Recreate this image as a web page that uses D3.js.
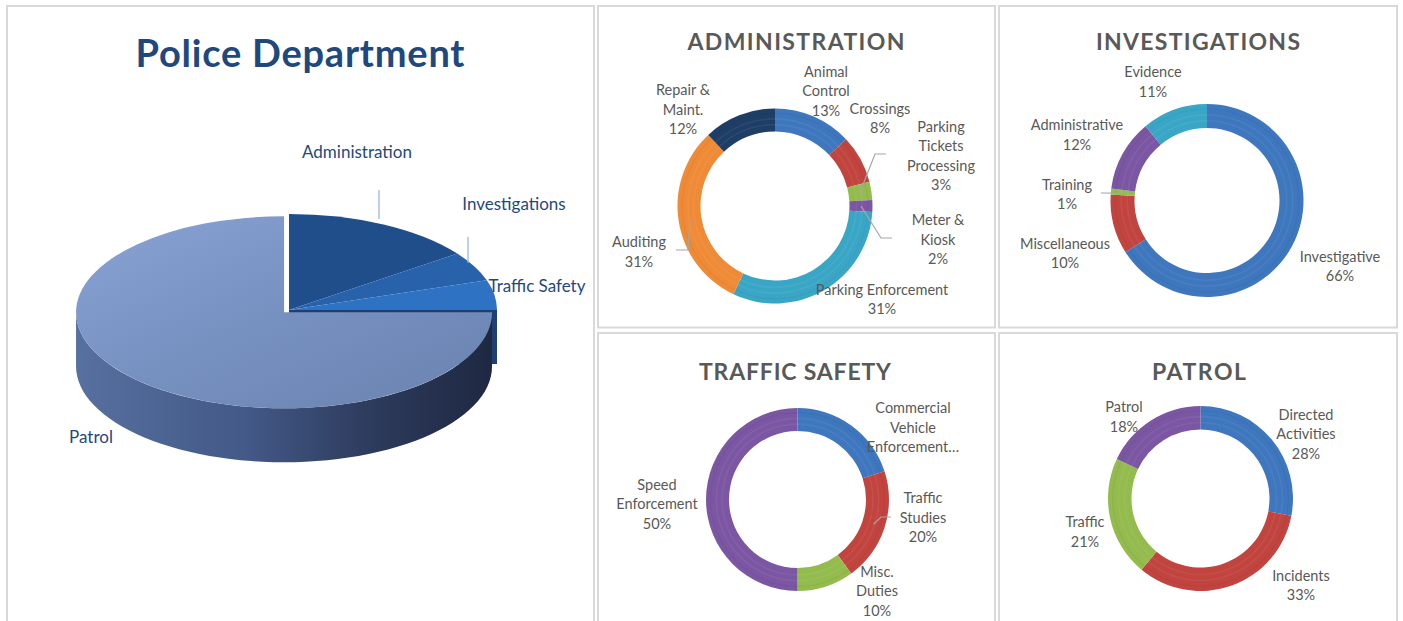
<!DOCTYPE html>
<html>
<head>
<meta charset="utf-8">
<script src="https://cdn.jsdelivr.net/npm/d3@7"></script>
<style>
  body { margin: 0; background: #fff; }
  svg { display: block; }
  text { font-family: Lato, "Open Sans", sans-serif; }
</style>
</head>
<body>
<div id="chart"></div>
<script>
// department split (3D pie)
const deptNames = ["Administration", "Investigations", "Traffic Safety", "Patrol"];
const deptValues = [15, 5, 5, 75];

// sub charts (line breaks are where the labels wrap)
const adminCats = ["Animal\nControl", "Crossings", "Parking\nTickets\nProcessing", "Meter &\nKiosk",
  "Parking Enforcement", "Auditing", "Repair &\nMaint."];
const adminValues = [13, 8, 3, 2, 31, 31, 12];

const invCats = ["Investigative", "Miscellaneous", "Training", "Administrative", "Evidence"];
const invValues = [66, 10, 1, 12, 11];

const trafficCats = ["Commercial\nVehicle\nEnforcement…", "Traffic\nStudies", "Misc.\nDuties", "Speed\nEnforcement"];
const trafficValues = [20, 20, 10, 50];

const patrolCats = ["Directed\nActivities", "Incidents", "Traffic", "Patrol"];
const patrolValues = [28, 33, 21, 18];

const C = {
  blue: "#3e77be", red: "#c1443f", green: "#93bb4d", purple: "#7b56a2",
  aqua: "#3aa6c5", orange: "#ef8a36", navy: "#1f3e66"
};

const W = 1403, H = 621;
const svg = d3.select("#chart").append("svg").attr("width", W).attr("height", H);
const defs = svg.append("defs");

// panel frames
const panels = [[7, 6, 587, 640], [598, 6, 397, 321.5], [999, 6, 398, 321.5], [598, 333, 397, 300], [999, 333, 398, 300]];
svg.selectAll("rect.panel").data(panels).join("rect")
  .attr("class", "panel")
  .attr("x", d => d[0]).attr("y", d => d[1])
  .attr("width", d => d[2]).attr("height", d => d[3])
  .attr("fill", "none").attr("stroke", "#d9d9d9").attr("stroke-width", 2);

//---------------- 3D pie ----------------
const P = { cx: 289, cy: 310, rx: 208, ry: 96, depth: 54, explode: 7 };
const topColors = ["#1f4e8b", "#2862ab", "#2e72c4", "url(#patrolTop)"];
const sideColors = ["#183c6c", "#1f4d88", "#24589a", "url(#patrolSide)"];

function grad(id, x1, y1, x2, y2, stops, user) {
  const g = defs.append("linearGradient").attr("id", id)
    .attr("x1", x1).attr("y1", y1).attr("x2", x2).attr("y2", y2);
  if (user) g.attr("gradientUnits", "userSpaceOnUse");
  stops.forEach(s => g.append("stop").attr("offset", s[0]).attr("stop-color", s[1]));
}
grad("patrolTop", 0, 0, 1, 1, [[0, "#89a4d4"], [0.5, "#7690c0"], [1, "#6a83b0"]]);
grad("patrolSide", 77, 0, 497, 0, [[0, "#56709f"], [0.4, "#435987"], [0.7, "#2d3b5c"], [1, "#1d2740"]], true);

const pieArcs = d3.pie().sort(null)(deptValues);
const offsetOf = (d, i) => {
  if (i !== 3) return [0, 0];
  const m = (d.startAngle + d.endAngle) / 2;
  return [P.explode * Math.sin(m), -P.explode * Math.cos(m) * P.ry / P.rx];
};
const ept = (a, cx, cy) => [cx + P.rx * Math.sin(a), cy - P.ry * Math.cos(a)];
const line = d3.line();

function sidePath(d, i) {
  const a0 = Math.max(d.startAngle, Math.PI / 2), a1 = Math.min(d.endAngle, 3 * Math.PI / 2);
  if (a1 <= a0) return null;
  const [ox, oy] = offsetOf(d, i);
  const cx = P.cx + ox, cy = P.cy + oy;
  const angs = d3.range(0, 61).map(k => a0 + (a1 - a0) * k / 60);
  const top = angs.map(a => ept(a, cx, cy));
  const bot = angs.slice().reverse().map(a => ept(a, cx, cy + P.depth));
  return line(top.concat(bot)) + "Z";
}

const pieG = svg.append("g");
// exposed cut face of traffic safety (seen through the exploded gap)
const tsArc = pieArcs[2];
pieG.append("path")
  .attr("d", line([[P.cx, P.cy], ept(tsArc.endAngle, P.cx, P.cy), ept(tsArc.endAngle, P.cx, P.cy + P.depth), [P.cx, P.cy + P.depth]]) + "Z")
  .attr("fill", "#1d3f73");

pieG.selectAll("path.side").data(pieArcs).join("path")
  .attr("class", "side")
  .attr("d", (d, i) => sidePath(d, i))
  .attr("fill", (d, i) => sideColors[i]);

const arcTop = d3.arc().innerRadius(0).outerRadius(P.rx);
pieG.selectAll("path.top").data(pieArcs).join("path")
  .attr("class", "top")
  .attr("transform", (d, i) => {
    const [ox, oy] = offsetOf(d, i);
    return `translate(${P.cx + ox},${P.cy + oy}) scale(1,${P.ry / P.rx})`;
  })
  .attr("d", arcTop)
  .attr("fill", (d, i) => topColors[i]);

// pie labels
const deptLabelPos = [[357, 158], [514, 210], [537, 292], [91, 443]];
svg.selectAll("text.dept").data(deptNames).join("text")
  .attr("class", "dept")
  .attr("x", (d, i) => deptLabelPos[i][0]).attr("y", (d, i) => deptLabelPos[i][1])
  .attr("text-anchor", "middle").attr("font-size", 17).attr("fill", "#1f497d")
  .text(d => d);
const deptLeaders = [[[379, 190], [379, 219]], [[468, 237], [468, 263]]];
svg.selectAll("path.dlead").data(deptLeaders).join("path")
  .attr("class", "dlead").attr("d", d => line(d))
  .attr("stroke", "#8fb3e0").attr("stroke-width", 1.2).attr("fill", "none");

svg.append("text")
  .attr("x", 300).attr("y", 67)
  .attr("text-anchor", "middle").attr("font-size", 38).attr("font-weight", 700)
  .attr("fill", "#1f497d")
  .attr("textLength", 329).attr("lengthAdjust", "spacing")
  .text("Police Department");

//---------------- doughnuts ----------------
const donuts = [
  {
    title: "ADMINISTRATION", tx: 796, ty: 50, tw: 217,
    cx: 775, cy: 206, R: 97.5, r: 74.5,
    cats: adminCats, values: adminValues,
    colors: [C.blue, C.red, C.green, C.purple, C.aqua, C.orange, C.navy],
    labels: [[51, -115], [105, -87.5], [166, -50], [163, 33.5], [107, 93.5], [-136, 46], [-92, -96.5]],
    leaders: { 2: [[100, -52], [111, -52]], 3: [[106, 32], [117, 32]], 5: [[-87, 44], [-99, 44]] }
  },
  {
    title: "INVESTIGATIONS", tx: 1198, ty: 50, tw: 204,
    cx: 1207, cy: 200.5, R: 96.5, r: 72.5,
    cats: invCats, values: invValues,
    colors: [C.blue, C.red, C.green, C.purple, C.aqua],
    labels: [[133, 66], [-142, 53], [-140, -6], [-130, -65.5], [-54, -118.5]],
    leaders: { 2: [[-106, -7.5]] }, leadR: { 2: 76 }
  },
  {
    title: "TRAFFIC SAFETY", tx: 795, ty: 380, tw: 192,
    cx: 797.5, cy: 499.5, R: 91.5, r: 68.5,
    cats: trafficCats, values: trafficValues,
    colors: [C.blue, C.red, C.green, C.purple],
    labels: [[115.5, -72], [125.5, 18], [79.5, 91.5], [-140.5, 4.5]],
    leaders: { 1: [[83.5, 17.5], [93.5, 17.5]] }
  },
  {
    title: "PATROL", tx: 1199, ty: 380, tw: 94,
    cx: 1200.5, cy: 498.5, R: 92.5, r: 69,
    cats: patrolCats, values: patrolValues,
    colors: [C.blue, C.red, C.green, C.purple],
    labels: [[105.5, -64.5], [100.5, 87], [-115.5, 33.5], [-76.5, -81.5]],
    leaders: {}
  }
];

const LH = 19.5;

donuts.forEach(cfg => {
  const g = svg.append("g").attr("transform", `translate(${cfg.cx},${cfg.cy})`);
  const arcs = d3.pie().sort(null)(cfg.values);
  const total = d3.sum(cfg.values);
  const arc = d3.arc().innerRadius(cfg.r).outerRadius(cfg.R);

  g.selectAll("path.seg").data(arcs).join("path")
    .attr("class", "seg").attr("d", arc)
    .attr("fill", (d, i) => cfg.colors[i]);

  // soft bevel stripes
  [0.3, 0.55, 0.8].forEach((f, k) => {
    const rr = cfg.r + (cfg.R - cfg.r) * f;
    const stripe = d3.arc().innerRadius(rr - 0.8).outerRadius(rr + 0.8);
    g.selectAll("path.st" + k).data(arcs).join("path")
      .attr("class", "st" + k).attr("d", stripe)
      .attr("fill", k === 2 ? "#000" : "#fff")
      .attr("opacity", k === 2 ? 0.03 : 0.06);
  });

  // leader lines
  Object.keys(cfg.leaders).forEach(k => {
    const d = arcs[+k];
    const m = (d.startAngle + d.endAngle) / 2;
    const rr = (cfg.leadR && cfg.leadR[k]) || (cfg.r + cfg.R) / 2;
    const start = [rr * Math.sin(m), -rr * Math.cos(m)];
    g.append("path")
      .attr("d", line([start].concat(cfg.leaders[k])))
      .attr("fill", "none").attr("stroke", "#a6a6a6").attr("stroke-width", 1.2);
  });

  // data labels
  arcs.forEach((d, i) => {
    const name = cfg.cats[i];
    const lines = name.split("\n");
    if (!name.endsWith("…")) lines.push(Math.round(d.data / total * 100) + "%");
    const [lx, ly] = cfg.labels[i];
    const t = g.append("text").attr("text-anchor", "middle")
      .attr("font-size", 14.5).attr("fill", "#595959");
    lines.forEach((s, j) => {
      t.append("tspan").attr("x", lx)
        .attr("y", ly + (j - (lines.length - 1) / 2) * LH + 5)
        .text(s);
    });
  });

  svg.append("text")
    .attr("x", cfg.tx).attr("y", cfg.ty)
    .attr("text-anchor", "middle").attr("font-size", 23).attr("font-weight", 700)
    .attr("fill", "#595959")
    .attr("textLength", cfg.tw).attr("lengthAdjust", "spacing")
    .text(cfg.title);
});
</script>
</body>
</html>
